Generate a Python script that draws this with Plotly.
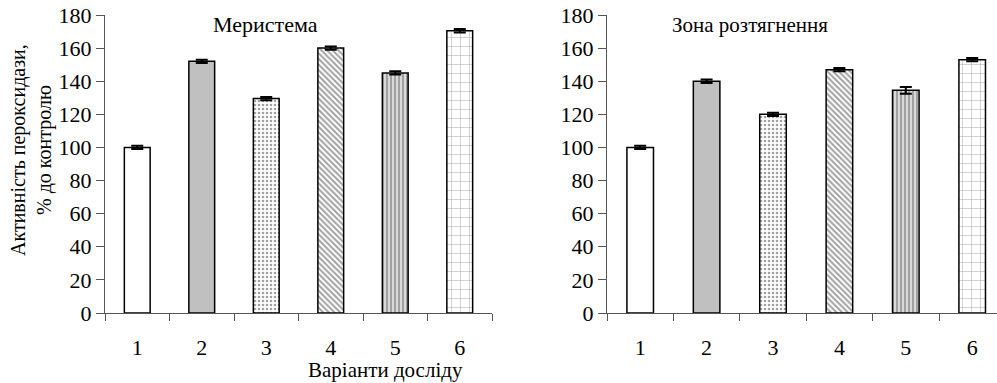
import plotly.graph_objects as go

categories = [1, 2, 3, 4, 5, 6]
tick_labels = ["1", "2", "3", "4", "5", "6"]
meristem_values = [100, 152, 129.5, 160, 145, 170.5]
meristem_errors = [1, 1, 1, 1, 1, 1]
elong_values = [100, 140, 120, 147, 134.5, 153]
elong_errors = [1, 1, 1, 1, 2, 1]
y_ticks = [0, 20, 40, 60, 80, 100, 120, 140, 160, 180]
sep_ticks = [0.5, 1.5, 2.5, 3.5, 4.5, 5.5, 6.5]

title_left = "Меристема"
title_right = "Зона розтягнення"
y_title = "Активність пероксидази,<br>% до контролю"
x_title = "Варіанти досліду"

FONT = "Liberation Serif"
AX = "#555555"

fills = ["white", "#c0c0c0", "white", "white", "white", "white"]
shapes = ["", "", ".", "\\", "|", "+"]
psize = [8, 8, 4, 4, 4, 9]
psol = [0.3, 0.3, 0.35, 0.5, 0.7, 0.1]
pfg = ["black", "black", "black", "black", "black", "#666666"]

fig = go.Figure()


def add_bars(vals, errs, xa, ya):
    fig.add_trace(go.Bar(
        x=categories, y=vals, width=0.4,
        xaxis=xa, yaxis=ya,
        marker=dict(
            color=fills,
            line=dict(color="black", width=1.5),
            pattern=dict(shape=shapes, size=psize, solidity=psol,
                         fgcolor=pfg, bgcolor=fills, fillmode="overlay"),
        ),
        error_y=dict(type="data", array=errs, visible=True, color="black",
                     thickness=2, width=6),
        showlegend=False, hoverinfo="skip",
    ))


add_bars(meristem_values, meristem_errors, "x", "y")
add_bars(elong_values, elong_errors, "x2", "y2")

# invisible traces to activate separator-tick axes
fig.add_trace(go.Scatter(x=[1], y=[0], xaxis="x3", yaxis="y", mode="markers",
                         marker=dict(opacity=0), showlegend=False, hoverinfo="skip"))
fig.add_trace(go.Scatter(x=[1], y=[0], xaxis="x4", yaxis="y2", mode="markers",
                         marker=dict(opacity=0), showlegend=False, hoverinfo="skip"))

d1 = [105 / 997, 492 / 997]
d2 = [607 / 997, 1.0]
r1 = [0.5, 6.5]
r2 = [0.5, 0.5 + 390 / 66.4]

xcommon = dict(showgrid=False, zeroline=False, tickfont=dict(family=FONT, size=22, color="black"),
               tickvals=categories, ticktext=tick_labels, ticks="",
               showline=True, linecolor=AX, linewidth=1, ticklabelstandoff=15)
sepcommon = dict(showgrid=False, zeroline=False, tickvals=sep_ticks,
                 ticktext=[""] * len(sep_ticks), ticks="outside", ticklen=7,
                 tickcolor=AX, tickwidth=1, showline=False, showticklabels=False)
ycommon = dict(showgrid=False, zeroline=False, range=[0, 180], tickvals=y_ticks,
               ticks="outside", ticklen=8, tickcolor=AX, tickwidth=1,
               showline=True, linecolor=AX, linewidth=1,
               tickfont=dict(family=FONT, size=22, color="black"))

fig.update_layout(
    width=997, height=383,
    margin=dict(l=0, r=0, t=15, b=70),
    paper_bgcolor="white", plot_bgcolor="white",
    xaxis=dict(domain=d1, range=r1, anchor="y", **xcommon),
    xaxis2=dict(domain=d2, range=r2, anchor="y2", **xcommon),
    xaxis3=dict(domain=d1, range=r1, anchor="y", overlaying="x", **sepcommon),
    xaxis4=dict(domain=d2, range=r2, anchor="y2", overlaying="x2", **sepcommon),
    yaxis=dict(domain=[0, 1], anchor="x", **ycommon),
    yaxis2=dict(domain=[0, 1], anchor="x2", **ycommon),
    annotations=[
        dict(text=title_left, x=265, y=25, showarrow=False,
             font=dict(family=FONT, size=22, color="black")),
        dict(text=title_right, x=750, y=25, showarrow=False,
             font=dict(family=FONT, size=21, color="black")),
        dict(text=y_title, x=31, y=150, textangle=-90, showarrow=False,
             font=dict(family=FONT, size=20, color="black")),
        dict(text=x_title, x=385, y=370, showarrow=False,
             font=dict(family=FONT, size=21, color="black")),
    ],
)

# convert pixel annotation positions to paper coordinates
for a in fig.layout.annotations:
    a.xref = "paper"
    a.yref = "paper"
    a.x = a.x / 997
    a.y = (383 - 70 - a.y) / (383 - 15 - 70)
    a.yanchor = "middle"
    a.xanchor = "center"

fig.write_html("out.html")
